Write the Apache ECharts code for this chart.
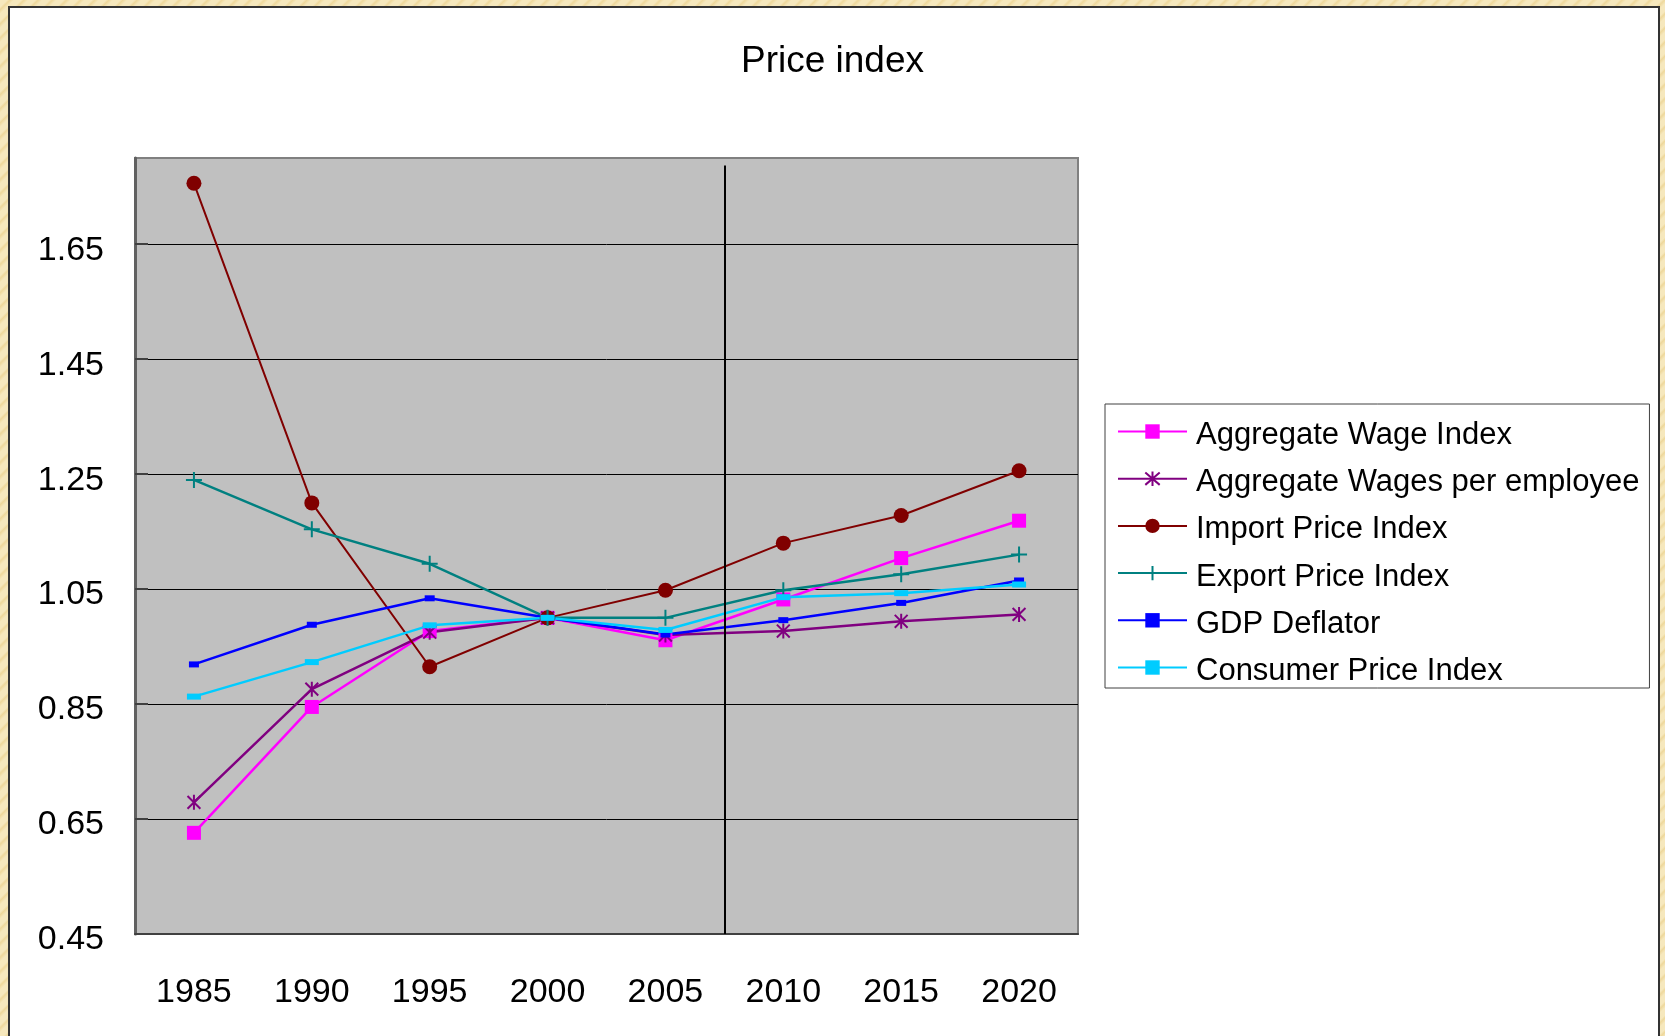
<!DOCTYPE html>
<html>
<head>
<meta charset="utf-8">
<title>Price index</title>
<script src="https://cdn.jsdelivr.net/npm/echarts@6.0.0/dist/echarts.min.js"></script>
<style>
    html, body {
        margin: 0;
        padding: 0;
        width: 1665px;
        height: 1036px;
        overflow: hidden;
        background: repeating-linear-gradient(135deg, #f6e8bd 0px, #f6e8bd 5px, #eed89c 7px, #f6e8bd 10px);
    }
    .panel {
        position: absolute;
        left: 8px;
        top: 6px;
        width: 1648px;
        height: 1060px;
        background: #fff;
        border: 2px solid #333;
    }
    #chart {
        position: absolute;
        left: 0;
        top: 0;
        width: 1665px;
        height: 1036px;
    }
</style>
</head>
<body>
<div class="panel"></div>
<div id="chart"></div>
<script>
const years = ['1985', '1990', '1995', '2000', '2005', '2010', '2015', '2020'];

const aggregateWage = [0.626, 0.845, 0.977, 1.000, 0.961, 1.032, 1.104, 1.169];
const wagesPerEmployee = [0.679, 0.876, 0.975, 1.000, 0.970, 0.977, 0.994, 1.006];
const importPrice = [1.756, 1.200, 0.915, 1.000, 1.048, 1.130, 1.178, 1.256];
const exportPrice = [1.240, 1.154, 1.094, 1.000, 1.000, 1.048, 1.076, 1.110];
const gdpDeflator = [0.919, 0.988, 1.034, 1.000, 0.971, 0.996, 1.026, 1.065];
const consumerPrice = [0.863, 0.923, 0.987, 1.000, 0.979, 1.036, 1.043, 1.058];

const seriesNames = [
    'Aggregate Wage Index',
    'Aggregate Wages per employee',
    'Import Price Index',
    'Export Price Index',
    'GDP Deflator',
    'Consumer Price Index'
];

// y axis range, ticks every 0.2 from 0.45
const yMin = 0.45;
const yMax = 1.8;
const yStep = 0.2;

// vertical divider sits on the boundary between 2005 and 2010
const dividerAt = 5;
const dividerSpan = [1.787, 0.45];

const FONT = 'Liberation Sans';

const ASTERISK = 'path://M0,-7L0,7M-6,-6L6,6M-6,6L6,-6';
const PLUS = 'path://M0,-8L0,8M-8,0L8,0';

function lineSeries(name, data, color, symbol, symbolSize, extra) {
    return Object.assign({
        name: name,
        type: 'line',
        data: data,
        symbol: symbol,
        symbolSize: symbolSize,
        showSymbol: true,
        lineStyle: { color: color, width: 2.5 },
        itemStyle: { color: color },
        emphasis: { disabled: true },
        z: 3
    }, extra || {});
}

var myChart = echarts.init(document.getElementById('chart'));
var option;

option = {
    animation: false,
    backgroundColor: 'transparent',
    textStyle: { fontFamily: FONT },
    title: {
        text: 'Price index',
        left: 'center',
        top: 38,
        textStyle: {
            fontFamily: FONT,
            fontSize: 37,
            fontWeight: 'normal',
            color: '#000'
        }
    },
    legend: {
        data: seriesNames,
        orient: 'vertical',
        left: 1105,
        top: 404,
        padding: [8, 10, 1, 12],
        itemWidth: 69,
        itemHeight: 18,
        itemGap: 8.2,
        backgroundColor: '#fff',
        borderColor: '#404040',
        borderWidth: 1,
        // text sits a few px lower than the marker line
        formatter: (name) => '{t|' + name + '}',
        textStyle: {
            rich: {
                t: {
                    fontFamily: FONT,
                    fontSize: 31,
                    lineHeight: 31,
                    color: '#000',
                    padding: [8, 0, 0, 4]
                }
            }
        }
    },
    grid: {
        left: 135,
        top: 158,
        width: 943,
        height: 776,
        show: true,
        backgroundColor: '#c0c0c0',
        borderColor: '#808080',
        borderWidth: 2
    },
    xAxis: [
        {
            type: 'category',
            data: years,
            boundaryGap: true,
            axisLine: { lineStyle: { color: '#404040', width: 2 } },
            axisTick: {
                inside: true,
                length: 12,
                lineStyle: { color: '#404040', width: 1 }
            },
            axisLabel: {
                fontFamily: FONT,
                fontSize: 34,
                lineHeight: 34,
                color: '#000',
                margin: 42
            },
            splitLine: { show: false }
        },
        {
            // hidden helper axis used to place the divider between categories
            type: 'value',
            min: 0,
            max: years.length,
            show: false
        }
    ],
    yAxis: {
        type: 'value',
        min: yMin,
        max: yMax,
        interval: yStep,
        axisLine: { show: true, lineStyle: { color: '#606060', width: 3 } },
        axisTick: {
            show: true,
            inside: true,
            length: 13,
            lineStyle: { color: '#404040', width: 2 }
        },
        axisLabel: {
            margin: 31,
            showMaxLabel: false,
            // labels sit a little below their grid line
            formatter: (v) => '{t|' + v.toFixed(2) + '}',
            rich: {
                t: {
                    fontFamily: FONT,
                    fontSize: 34,
                    lineHeight: 34,
                    color: '#000',
                    padding: [12, 0, 0, 0]
                }
            }
        },
        splitLine: {
            show: true,
            showMaxLine: false,
            lineStyle: { color: '#000', width: 1 }
        }
    },
    series: [
        lineSeries(seriesNames[0], aggregateWage, '#ff00ff', 'rect', 14),
        lineSeries(seriesNames[1], wagesPerEmployee, '#800080', ASTERISK, 15, {
            symbolKeepAspect: true,
            itemStyle: { color: '#800080', borderColor: '#800080', borderWidth: 2 }
        }),
        lineSeries(seriesNames[2], importPrice, '#800000', 'circle', 15, {
            lineStyle: { color: '#800000', width: 2 }
        }),
        lineSeries(seriesNames[3], exportPrice, '#008080', PLUS, 16, {
            symbolKeepAspect: true,
            itemStyle: { color: '#008080', borderColor: '#008080', borderWidth: 2 }
        }),
        lineSeries(seriesNames[4], gdpDeflator, '#0000ff', 'rect', [10, 6]),
        lineSeries(seriesNames[5], consumerPrice, '#00ccff', 'rect', [14, 6]),
        {
            name: 'divider',
            type: 'line',
            xAxisIndex: 1,
            data: [],
            silent: true,
            markLine: {
                silent: true,
                symbol: 'none',
                label: { show: false },
                lineStyle: { color: '#000', width: 2, type: 'solid' },
                data: [[
                    { coord: [dividerAt, dividerSpan[0]] },
                    { coord: [dividerAt, dividerSpan[1]] }
                ]]
            }
        }
    ]
};

myChart.setOption(option);
</script>
</body>
</html>
